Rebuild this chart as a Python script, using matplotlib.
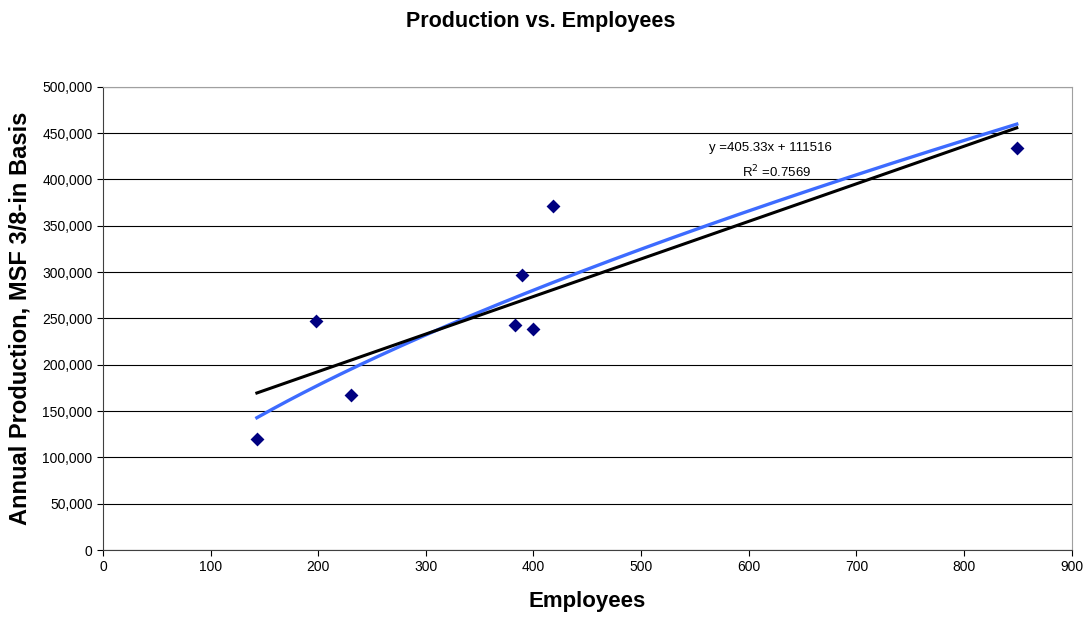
import numpy as np
import matplotlib.pyplot as plt

plt.rcParams["font.family"] = ["Liberation Sans", "DejaVu Sans"]

# plant data
employees = np.array([143, 198, 230, 383, 389, 400, 418, 849])
production = np.array([120000, 247000, 167000, 243000, 297000, 239000, 371000, 434000])

# linear trendline as reported
slope = 405.33
intercept = 111516
r_squared = 0.7569

xticks = np.arange(0, 901, 100)
yticks = np.arange(0, 500001, 50000)

fig = plt.figure(figsize=(10.86, 6.21), dpi=100)
ax = fig.add_axes([0.0948, 0.1143, 0.892, 0.746])

# power trendline fitted in log space
b, ln_a = np.polyfit(np.log(employees), np.log(production), 1)
xs = np.linspace(employees.min(), employees.max(), 200)
ax.plot(xs, np.exp(ln_a) * xs ** b, color="#3d6bff", lw=2.4, zorder=3)

xl = np.array([employees.min(), employees.max()])
ax.plot(xl, slope * xl + intercept, color="black", lw=2.2, zorder=4)

ax.scatter(employees, production, marker="D", s=50, color="#000080", zorder=5,
           linewidths=0)

ax.set_xlim(0, 900)
ax.set_ylim(0, 500000)
ax.set_xticks(xticks)
ax.set_yticks(yticks)
ax.set_yticklabels([f"{v:,}" for v in yticks])
ax.tick_params(labelsize=10, length=4, width=0.8, direction="out")
ax.yaxis.grid(True, color="black", lw=0.8)
ax.set_axisbelow(True)
for side in ["top", "right"]:
    ax.spines[side].set_color("#a0a0a0")
for side in ["left", "bottom"]:
    ax.spines[side].set_color("#404040")

ax.text(620, 434000, f"y ={slope}x + {intercept}", ha="center", va="center",
        fontsize=9.5)
ax.text(626, 408000, f"R$^2$ ={r_squared}", ha="center", va="center",
        fontsize=9.5)

ax.set_xlabel("Employees", fontsize=16, fontweight="bold", labelpad=12)
ax.set_ylabel("Annual Production, MSF 3/8-in Basis", fontsize=17,
              fontweight="bold", labelpad=8)
fig.suptitle("Production vs. Employees", x=0.498, y=0.982, fontsize=15.5,
             fontweight="bold")

fig.savefig("out.png", dpi=100)
